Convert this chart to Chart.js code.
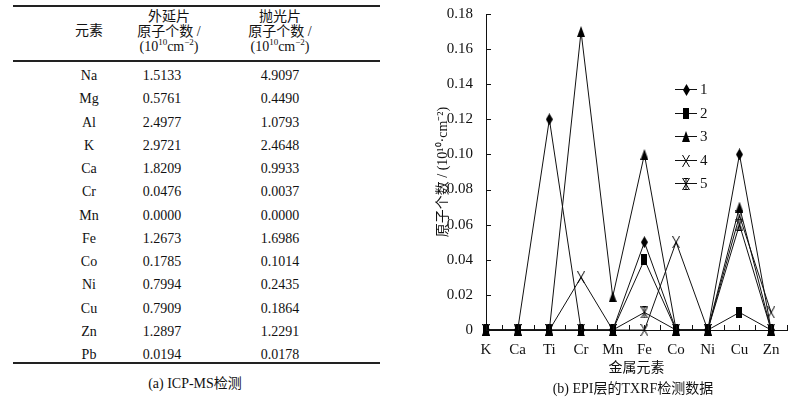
<!DOCTYPE html>
<html><head><meta charset="utf-8">
<script src="https://cdn.jsdelivr.net/npm/chart.js@4.4.0/dist/chart.umd.min.js"></script>
<style>
html,body{margin:0;padding:0;background:#fff;}
body{width:800px;height:400px;position:relative;overflow:hidden;font-family:'Liberation Serif','Noto Sans CJK SC',serif;color:#111;}
.t{position:absolute;font-size:14px;line-height:15px;white-space:nowrap;transform:translate(-50%,-50%);text-align:center;}
.t sup{font-size:9px;line-height:0;vertical-align:6px;}
.rule{position:absolute;background:#222;left:13px;width:367px;}
#chartbox{position:absolute;left:400px;top:0;width:400px;height:400px;}
</style></head><body>
<div id="table"></div>
<div id="chartbox"><canvas id="c"></canvas></div>
<script>
// ---- table (a) data ----
const tableElements = ['Na','Mg','Al','K','Ca','Cr','Mn','Fe','Co','Ni','Cu','Zn','Pb'];
const epiCounts = ['1.5133','0.5761','2.4977','2.9721','1.8209','0.0476','0.0000','1.2673','0.1785','0.7994','0.7909','1.2897','0.0194'];
const polishedCounts = ['4.9097','0.4490','1.0793','2.4648','0.9933','0.0037','0.0000','1.6986','0.1014','0.2435','0.1864','1.2291','0.0178'];

// ---- chart (b) data ----
const metals = ['K','Ca','Ti','Cr','Mn','Fe','Co','Ni','Cu','Zn'];
const series1 = [0, 0, 0.12, 0, 0, 0.05, 0, 0, 0.10, 0];
const series2 = [0, 0, 0, 0, 0, 0.04, 0, 0, 0.01, 0];
const series3 = [0, 0, 0, 0.17, 0.019, 0.10, 0, 0, 0.07, 0];
const series4 = [0, 0, 0, 0.03, 0, 0, 0.05, 0, 0.065, 0.01];
const series5 = [0, 0, 0, 0, 0, 0.01, 0, 0, 0.06, 0];
const seriesLabels = ['1','2','3','4','5'];
const yMin = 0, yMax = 0.18, yStep = 0.02;

// ---- build table ----
const tbl = document.getElementById('table');
function addText(html, x, y, extra){
  const d = document.createElement('div');
  d.className = 't'; d.innerHTML = html;
  d.style.left = x + 'px'; d.style.top = y + 'px';
  if (extra) Object.assign(d.style, extra);
  tbl.appendChild(d);
}
function addRule(y, h){
  const d = document.createElement('div');
  d.className = 'rule'; d.style.top = y + 'px'; d.style.height = h + 'px';
  tbl.appendChild(d);
}
addRule(5, 2);
addRule(60, 1.5);
addRule(362, 2);
addText('元素', 89, 30);
addText('外延片<br>原子个数 /<br>(10<sup>10</sup>cm<sup>−2</sup>)', 169, 31);
addText('抛光片<br>原子个数 /<br>(10<sup>10</sup>cm<sup>−2</sup>)', 280, 31);
tableElements.forEach((el, i) => {
  const y = 75 + i * 23.25;
  addText(el, 89, y);
  addText(epiCounts[i], 162, y);
  addText(polishedCounts[i], 280, y);
});
addText('(a) ICP-MS检测', 195, 383);

// ---- markers ----
function marker(w, h, draw){
  const c = document.createElement('canvas'); c.width = w; c.height = h;
  const g = c.getContext('2d'); g.fillStyle = '#000'; g.strokeStyle = '#000'; g.lineWidth = 1;
  draw(g, w, h); return c;
}
const mDiamond = marker(7, 12, (g,w,h)=>{g.beginPath();g.moveTo(w/2,0);g.lineTo(w,h/2);g.lineTo(w/2,h);g.lineTo(0,h/2);g.closePath();g.fill();});
const mSquare = marker(6, 11, (g,w,h)=>{g.fillRect(0,0,w,h);});
const mTri = marker(8, 11, (g,w,h)=>{g.beginPath();g.moveTo(w/2,0);g.lineTo(w,h);g.lineTo(0,h);g.closePath();g.fill();});
const mX = marker(8, 12, (g,w,h)=>{g.beginPath();g.moveTo(0.5,0);g.lineTo(w-0.5,h);g.moveTo(w-0.5,0);g.lineTo(0.5,h);g.stroke();});
const mStar = marker(8, 12, (g,w,h)=>{g.beginPath();g.moveTo(0.5,0);g.lineTo(w-0.5,h);g.moveTo(w-0.5,0);g.lineTo(0.5,h);g.moveTo(w/2,0);g.lineTo(w/2,h);g.moveTo(1.5,0.5);g.lineTo(w-1.5,0.5);g.moveTo(1.5,h-0.5);g.lineTo(w-1.5,h-0.5);g.stroke();});
const markers = [mDiamond, mSquare, mTri, mX, mStar];
const allSeries = [series1, series2, series3, series4, series5];

const FONT = "'Liberation Serif','Noto Sans CJK SC',serif";

const datasets = allSeries.map((s, k) => ({
  label: seriesLabels[k],
  data: metals.map((m, i) => ({x: i, y: s[i]})),
  borderColor: '#111', backgroundColor: '#111', borderWidth: 1,
  pointStyle: markers[k], pointRadius: 5, clip: false, tension: 0
}));

const inTicks = {
  id: 'inTicks',
  afterDraw(chart){
    const {x, y} = chart.scales; const ctx = chart.ctx;
    ctx.save(); ctx.strokeStyle = '#111'; ctx.lineWidth = 1; ctx.beginPath();
    x.ticks.forEach(t => { const px = Math.round(x.getPixelForValue(t.value)) + 0.5; ctx.moveTo(px, x.top); ctx.lineTo(px, x.top - 5); });
    y.ticks.forEach(t => { const py = Math.round(y.getPixelForValue(t.value)) + 0.5; ctx.moveTo(y.right, py); ctx.lineTo(y.right + 5, py); });
    ctx.stroke(); ctx.restore();
  }
};
const legendBox = {
  id: 'legendBox',
  afterDatasetsDraw(chart){
    const ctx = chart.ctx;
    ctx.save();
    chart.data.datasets.forEach((ds, i) => {
      const yy = Math.round(89 + i * 23.5) + 0.5;
      ctx.strokeStyle = '#111'; ctx.lineWidth = 1;
      ctx.beginPath(); ctx.moveTo(275, yy); ctx.lineTo(297, yy); ctx.stroke();
      const m = ds.pointStyle;
      ctx.drawImage(m, Math.round(286 - m.width/2), Math.round(yy - m.height/2));
      ctx.fillStyle = '#111'; ctx.font = '15px ' + FONT; ctx.textBaseline = 'middle'; ctx.textAlign = 'left';
      ctx.fillText(ds.label, 300, yy + 1);
    });
    ctx.restore();
  }
};

new Chart(document.getElementById('c'), {
  type: 'line',
  data: { datasets },
  plugins: [inTicks, legendBox],
  options: {
    responsive: true, maintainAspectRatio: false, animation: false,
    layout: { padding: { left: 34, top: 12, right: 13, bottom: 0 } },
    plugins: { legend: { display: false }, tooltip: { enabled: false } },
    scales: {
      x: {
        type: 'linear', min: 0, max: metals.length - 0.5,
        ticks: { stepSize: 0.5, autoSkip: false, maxRotation: 0, padding: 3, color: '#111',
          font: { family: FONT, size: 15 },
          callback: v => Number.isInteger(v) ? metals[v] : '' },
        grid: { display: false },
        border: { display: true, color: '#111', width: 1 },
        title: { display: true, text: '金属元素', color: '#111', font: { family: FONT, size: 14 }, padding: { top: 0, bottom: 23 } },
        afterFit(s){ s.height = 70; }
      },
      y: {
        min: yMin, max: yMax,
        ticks: { stepSize: yStep, padding: 5, color: '#111', font: { family: FONT, size: 15 },
          callback: v => Math.abs(v) < 1e-9 ? '0' : v.toFixed(2) },
        grid: { display: false },
        border: { display: true, color: '#111', width: 1 },
        title: { display: true, text: '原子个数 / (10¹⁰·cm⁻²)', color: '#111', font: { family: FONT, size: 14 }, padding: { top: 1, bottom: 0 } },
        afterFit(s){ s.width = 52; }
      }
    }
  }
});
</script>
<div class="t" style="left:633px;top:388px;">(b) EPI层的TXRF检测数据</div>
</body></html>
